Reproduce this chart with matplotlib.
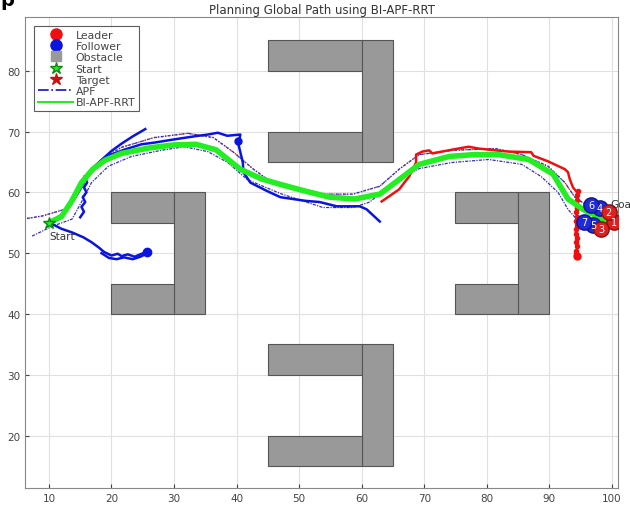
import numpy as np
import matplotlib.pyplot as plt
from matplotlib.patches import Rectangle
from matplotlib.lines import Line2D

# obstacle blocks (x, y, width, height)
obstacles = [
    (45, 80, 15, 5), (60, 65, 5, 20), (45, 65, 15, 5),
    (45, 30, 15, 5), (60, 15, 5, 20), (45, 15, 15, 5),
    (20, 55, 10, 5), (30, 40, 5, 20), (20, 40, 10, 5),
    (75, 55, 10, 5), (85, 40, 5, 20), (75, 40, 10, 5),
]

# BI-APF-RRT global path
path_x = [10, 12.0, 13.6, 15.2, 17.0, 19.0, 21.6, 26.0, 30.0, 33.5, 36.7, 40.6, 44.0, 47.0,
          51.0, 54.9, 58.9, 62.9, 66.0, 69.2, 74.0, 78.0, 81.9, 86.7, 90.6, 93.0, 95.4, 98.6, 100]
path_y = [55.0, 56.0, 58.5, 61.6, 63.8, 65.3, 66.4, 67.3, 67.8, 67.9, 67.0, 63.8, 62.2, 61.3,
          60.2, 59.2, 58.9, 59.7, 62.1, 64.6, 65.9, 66.2, 66.2, 65.4, 63.0, 58.9, 57.2, 55.6, 55.0]

# APF paths (upper and lower)
apf1_x = [6.5, 8.9, 12.5, 14.1, 16.3, 18.4, 21.6, 26.8, 32.2, 36.3, 39.5, 42.7, 45.4, 53.3,
          58.6, 62.9, 66.0, 69.2, 74.4, 81.4, 85.6, 89.8, 92.5, 94.1, 96.2, 99.0]
apf1_y = [55.7, 56.1, 57.2, 58.9, 62.6, 65.4, 67.4, 69.0, 69.7, 69.0, 66.6, 63.8, 61.8, 59.7,
          59.7, 61.0, 63.8, 66.2, 66.9, 67.2, 66.2, 64.3, 61.6, 59.2, 57.7, 56.4]
apf2_x = [7.3, 10.5, 13.7, 15.2, 16.8, 19.5, 23.2, 27.9, 31.6, 35.4, 38.6, 41.7, 47.0, 53.8,
          58.6, 61.3, 65.6, 69.2, 74.4, 80.3, 85.6, 88.7, 91.4, 93.0, 94.1, 96.2, 99.0]
apf2_y = [52.8, 54.4, 55.6, 58.4, 61.6, 64.3, 65.9, 66.9, 67.5, 66.7, 64.9, 62.1, 59.8, 57.5,
          57.5, 58.4, 62.1, 63.9, 64.9, 65.4, 64.6, 62.6, 60.0, 57.2, 55.9, 55.1, 54.6]

# follower trajectories
fol_a_x = [10.3, 12.0, 13.7, 15.5, 16.8, 18.0, 18.8, 20.0, 21.0, 21.6, 22.6, 23.7, 24.6, 25.6]
fol_a_y = [54.9, 54.0, 53.4, 52.6, 51.8, 50.9, 50.2, 49.6, 49.9, 49.5, 49.8, 49.4, 49.8, 50.2]
fol_a2_x = [18.4, 19.6, 20.8, 22.0, 23.4, 24.6, 25.4]
fol_a2_y = [50.0, 49.2, 49.0, 49.3, 49.0, 49.4, 49.8]
fol_b_x = [10.0, 12.0, 13.5, 15.0, 15.8, 17.0, 18.6, 20.0, 21.6, 23.4, 25.4]
fol_b_y = [55.0, 56.3, 58.0, 60.5, 62.6, 64.0, 65.5, 66.8, 68.0, 69.2, 70.4]
fol_c_x = [15.0, 15.6, 15.2, 15.8, 15.4, 16.0, 15.6, 16.1, 15.7]
fol_c_y = [55.9, 56.8, 57.6, 58.4, 59.2, 60.0, 60.8, 61.6, 62.6]
fol_d_x = [16.5, 18.0, 20.0, 22.0, 24.8, 27.0, 30.0, 33.2, 35.4, 37.0, 38.5, 40.6, 40.3, 40.6,
           41.0, 41.1, 42.2, 44.9, 47.0, 49.0, 51.0, 53.3, 56.0, 59.7, 60.8, 62.9]
fol_d_y = [63.0, 64.8, 66.2, 67.0, 67.9, 68.2, 68.7, 69.2, 69.5, 69.8, 69.3, 69.5, 67.9, 66.6,
           64.9, 63.3, 61.6, 60.2, 59.2, 58.9, 58.6, 58.4, 57.7, 57.7, 57.2, 55.2]

# leader trajectories
lead_a_x = [63.2, 64.9, 66.0, 67.6, 68.7, 68.7, 69.7, 70.8, 71.3, 74.4, 77.1, 78.7, 81.4, 83.5,
            87.1, 87.5, 89.8, 92.5, 93.0, 93.3, 93.8, 94.3]
lead_a_y = [58.5, 59.7, 60.5, 62.6, 64.9, 66.2, 66.7, 66.9, 66.4, 67.0, 67.5, 67.2, 66.9, 66.7,
            66.6, 66.0, 65.1, 63.8, 63.3, 62.1, 60.8, 60.2]
lead_dots_x = [94.6, 94.4, 94.5, 94.3, 94.4, 94.2, 94.4, 94.3, 94.5, 94.3, 94.2, 94.4, 94.3,
               94.5, 94.3, 94.2, 94.4]
lead_dots_y = [60.2, 59.5, 58.8, 58.1, 57.4, 56.7, 56.0, 55.3, 54.6, 53.9, 53.2, 52.5, 51.8,
               51.1, 50.4, 49.9, 49.6]

# final robot positions near the goal
leader_ids = ["1", "2", "3"]
leader_x = [100.3, 99.5, 98.3]
leader_y = [55.1, 56.7, 53.9]
follower_ids = ["4", "5", "6", "7"]
follower_x = [98.1, 97.0, 96.7, 95.6]
follower_y = [57.5, 54.6, 57.9, 55.1]

start = (10, 55)
target = (100, 55)

fig = plt.figure(figsize=(6.3, 5.06), dpi=100)
ax = fig.add_axes([0.040, 0.034, 0.941, 0.930])

for (x, y, w, h) in obstacles:
    ax.add_patch(Rectangle((x, y), w, h, facecolor="#999999", edgecolor="#555555",
                           linewidth=0.8, zorder=2))

apf_style = (0, (2.5, 1, 1, 1))
ax.plot(apf1_x, apf1_y, color="#d04040", linestyle=":", linewidth=1.0, zorder=3)
ax.plot(apf1_x, apf1_y, color="#3030c0", linestyle=apf_style, linewidth=0.9, zorder=3)
ax.plot(apf2_x, apf2_y, color="#3030c0", linestyle=apf_style, linewidth=0.9, zorder=3)

for xs, ys in [(fol_a_x, fol_a_y), (fol_a2_x, fol_a2_y), (fol_b_x, fol_b_y),
               (fol_c_x, fol_c_y), (fol_d_x, fol_d_y)]:
    ax.plot(xs, ys, color="#0a14e0", linewidth=1.8, zorder=4)
ax.plot(fol_a_x[-1], fol_a_y[-1], "o", color="#0a14e0", markersize=6, zorder=4)
ax.plot(40.3, 68.4, "o", color="#0a14e0", markersize=5, zorder=4)

ax.plot(lead_a_x, lead_a_y, color="#ee1010", linewidth=1.8, zorder=4)
ax.plot(lead_dots_x, lead_dots_y, color="#ee1010", linewidth=1.5, marker="o",
        markersize=3, zorder=4)
ax.plot(lead_dots_x[-1], lead_dots_y[-1], "o", color="#ee1010", markersize=5, zorder=4)

ax.plot(path_x, path_y, color="#22ee22", linewidth=4, zorder=5)
ax.plot(*start, marker="*", color="#22ee22", markersize=9, markeredgecolor="#118811", zorder=6)
ax.plot(*target, marker="*", color="#cc1010", markersize=9, zorder=6)

for i, x, y in zip(follower_ids, follower_x, follower_y):
    ax.plot(x, y, "o", color="#1f2ad8", markeredgecolor="#10148a", markersize=11, zorder=7)
    ax.text(x, y, i, color="white", fontsize=7, ha="center", va="center", zorder=8)
for i, x, y in zip(leader_ids, leader_x, leader_y):
    ax.plot(x, y, "o", color="#e02020", markeredgecolor="#8a1010", markersize=11, zorder=7)
    ax.text(x, y, i, color="white", fontsize=7, ha="center", va="center", zorder=8)

ax.text(10, 52.3, "Start", fontsize=7.5, color="#333333", zorder=8)
ax.text(99.8, 57.6, "Goal", fontsize=7.5, color="#333333", zorder=8, clip_on=False)

ax.set_xlim(6.2, 101)
ax.set_ylim(11.4, 88.8)
ax.set_xticks(np.arange(10, 101, 10))
ax.set_yticks(np.arange(20, 81, 10))
ax.grid(True, color="#e0e0e0", linewidth=0.8, zorder=0)
ax.set_axisbelow(True)
ax.tick_params(direction="in", labelsize=7.5, colors="#444444", length=3)
for s in ax.spines.values():
    s.set_color("#888888")
ax.set_title("Planning Global Path using BI-APF-RRT", fontsize=8.5, color="#333333", pad=3)

handles = [
    Line2D([], [], marker="o", color="#ee1010", linestyle="none", markersize=8),
    Line2D([], [], marker="o", color="#0a14e0", linestyle="none", markersize=8),
    Line2D([], [], marker="s", color="#999999", linestyle="none", markersize=6.5),
    Line2D([], [], marker="*", color="#22ee22", markeredgecolor="#118811", linestyle="none",
           markersize=9),
    Line2D([], [], marker="*", color="#cc1010", linestyle="none", markersize=9),
    Line2D([], [], color="#1010c0", linestyle="-.", linewidth=1.2),
    Line2D([], [], color="#22ee22", linewidth=1.5),
]
labels = ["Leader", "Follower", "Obstacle", "Start", "Target", "APF", "BI-APF-RRT"]
leg = ax.legend(handles, labels, loc="upper left", fontsize=7.8, frameon=True, fancybox=False,
                borderpad=0.35, labelspacing=0.12, handlelength=3.3, handletextpad=0.2,
                borderaxespad=0.8)
leg.get_frame().set_edgecolor("#333333")
leg.get_frame().set_linewidth(0.8)
for t in leg.get_texts():
    t.set_color("#444444")

fig.text(0.0, 1.0, "p", fontsize=14, fontweight="bold", va="center", ha="left")

fig.savefig("out.png", dpi=100)
